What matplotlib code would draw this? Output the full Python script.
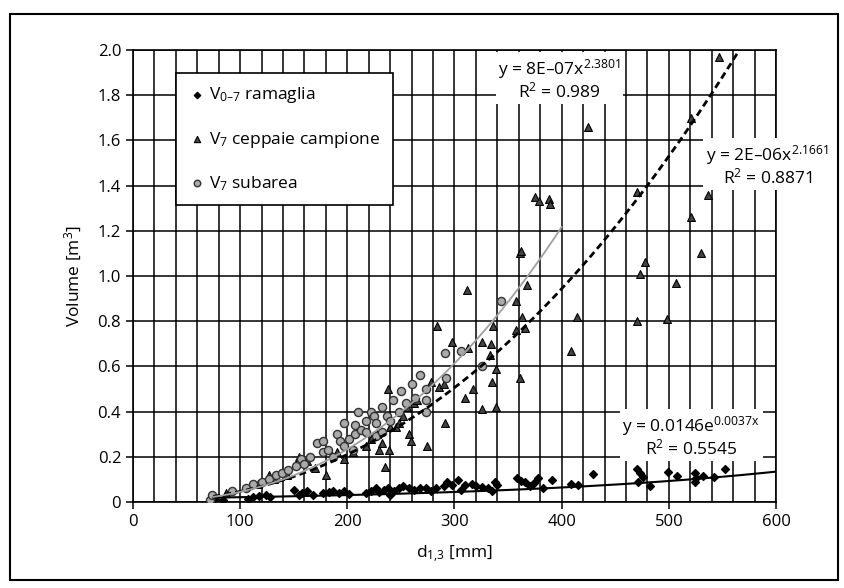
import numpy as np
import matplotlib.pyplot as plt
from matplotlib.patches import Rectangle
from matplotlib.ticker import MultipleLocator, FuncFormatter

plt.rcParams['font.family'] = ['Open Sans', 'DejaVu Sans']
plt.rcParams['mathtext.default'] = 'regular'

# V0-7 ramaglia (diamanti)
ram_x = [76, 84, 107, 112, 118, 124, 128, 150, 155, 158, 162, 168, 177, 183, 187,
         192, 197, 202, 217, 222, 227, 230, 234, 238, 240, 244, 248, 252, 258, 262,
         268, 273, 278, 283, 290, 293, 298, 303, 306, 310, 316, 320, 326, 331, 335,
         338, 340, 358, 362, 366, 370, 374, 378, 383, 391, 409, 415, 429, 470, 473,
         476, 471, 482, 499, 508, 524, 525, 524, 532, 542, 552]
ram_y = [0.013, 0.010, 0.013, 0.020, 0.025, 0.030, 0.020, 0.055, 0.030, 0.040, 0.047,
         0.030, 0.038, 0.045, 0.047, 0.040, 0.047, 0.035, 0.038, 0.050, 0.063, 0.045,
         0.055, 0.063, 0.030, 0.050, 0.063, 0.070, 0.063, 0.055, 0.060, 0.063, 0.050,
         0.063, 0.070, 0.088, 0.075, 0.096, 0.055, 0.075, 0.080, 0.070, 0.065, 0.063,
         0.047, 0.088, 0.075, 0.105, 0.095, 0.090, 0.072, 0.085, 0.105, 0.063, 0.096,
         0.080, 0.075, 0.126, 0.146, 0.130, 0.110, 0.090, 0.070, 0.133, 0.113, 0.130,
         0.105, 0.088, 0.113, 0.110, 0.146]

# V7 ceppaie campione (triangoli)
cep_x = [71, 87, 117, 127, 132, 144, 155, 162, 170, 180, 183, 190, 197, 205, 217,
         222, 228, 230, 232, 235, 238, 239, 240, 245, 248, 252, 256, 258, 259, 262,
         265, 274, 278, 284, 286, 290, 291, 298, 310, 312, 313, 317, 326, 326, 333,
         335, 334, 336, 339, 339, 357, 357, 361, 361, 362, 363, 366, 368, 375, 379,
         388, 389, 409, 414, 425, 470, 470, 473, 478, 498, 507, 521, 521, 530, 537, 547]
cep_y = [0.01, 0.04, 0.08, 0.12, 0.10, 0.12, 0.20, 0.18, 0.15, 0.12, 0.23, 0.22,
         0.19, 0.22, 0.25, 0.28, 0.30, 0.23, 0.26, 0.155, 0.50, 0.23, 0.33, 0.33,
         0.35, 0.38, 0.42, 0.30, 0.27, 0.44, 0.45, 0.25, 0.53, 0.78, 0.51, 0.52,
         0.35, 0.71, 0.46, 0.94, 0.68, 0.50, 0.41, 0.71, 0.65, 0.53, 0.70, 0.78,
         0.42, 0.59, 0.89, 0.76, 0.55, 1.10, 1.11, 0.82, 0.77, 0.96, 1.35, 1.33,
         1.34, 1.32, 0.67, 0.82, 1.66, 1.37, 0.80, 1.01, 1.06, 0.81, 0.97, 1.70,
         1.26, 1.10, 1.36, 1.97]

# V7 subarea (cerchi)
sub_x = [72, 74, 92, 105, 112, 120, 127, 133, 139, 145, 152, 157, 160, 165, 172,
         177, 177, 182, 187, 190, 193, 197, 197, 202, 205, 207, 207, 210, 213, 217,
         217, 222, 225, 227, 227, 232, 232, 237, 240, 243, 248, 250, 255, 260, 263,
         268, 273, 273, 273, 291, 292, 306, 326, 343]
sub_y = [0.01, 0.03, 0.05, 0.06, 0.08, 0.09, 0.10, 0.12, 0.13, 0.14, 0.16, 0.19,
         0.17, 0.20, 0.26, 0.27, 0.22, 0.23, 0.20, 0.30, 0.27, 0.35, 0.25, 0.28,
         0.23, 0.34, 0.30, 0.40, 0.32, 0.36, 0.31, 0.40, 0.38, 0.35, 0.29, 0.42,
         0.31, 0.38, 0.36, 0.45, 0.40, 0.49, 0.44, 0.52, 0.46, 0.56, 0.50, 0.45,
         0.40, 0.66, 0.55, 0.67, 0.60, 0.89]

# linee di tendenza
ram_a, ram_b = 0.0146, 0.0037
cep_a, cep_b = 2.18e-06, 2.1661
sub_a, sub_b = 7.8e-07, 2.3801

fig = plt.figure(figsize=(8.45, 5.88), dpi=100)
fig.patches.append(Rectangle((10 / 845, 1 - 580 / 588), 828 / 845, 566 / 588,
                             transform=fig.transFigure, fill=False,
                             edgecolor='black', linewidth=1.5))
ax = fig.add_axes([133 / 845, 1 - 502 / 588, 643 / 845, 452 / 588])

ax.set_xlim(0, 600)
ax.set_ylim(0, 2.0)
ax.xaxis.set_major_locator(MultipleLocator(100))
ax.xaxis.set_minor_locator(MultipleLocator(20))
ax.yaxis.set_major_locator(MultipleLocator(0.2))
ax.yaxis.set_major_formatter(FuncFormatter(lambda v, p: '0' if abs(v) < 1e-9 else f'{v:.1f}'))
ax.grid(which='both', axis='x', color='black', linewidth=1.1)
ax.grid(which='major', axis='y', color='black', linewidth=1.1)
ax.set_axisbelow(True)
ax.tick_params(which='major', direction='out', length=5, width=1.1, labelsize=12)
ax.tick_params(which='minor', length=0)
for s in ax.spines.values():
    s.set_linewidth(1.2)

ax.scatter(ram_x, ram_y, marker='D', s=16, color='black', zorder=3,
           label='V$_{0\u20137}$ ramaglia')
ax.scatter(cep_x, cep_y, marker='^', s=32, facecolor='#444444', edgecolor='black',
           linewidth=0.8, zorder=3, label='V$_7$ ceppaie campione')
ax.scatter(sub_x, sub_y, marker='o', s=34, facecolor='#aaaaaa', edgecolor='#333333',
           linewidth=1.0, zorder=4, label='V$_7$ subarea')

xr = np.linspace(75, 600, 200)
ax.plot(xr, ram_a * np.exp(ram_b * xr), color='black', linewidth=1.5, zorder=5)
xc = np.linspace(75, 575, 200)
ax.plot(xc, cep_a * xc ** cep_b, color='black', linewidth=2, linestyle=(0, (2.5, 1.5)), zorder=5)
xs = np.linspace(75, 400, 200)
ax.plot(xs, sub_a * xs ** sub_b, color='#a0a0a0', linewidth=1.3, zorder=5)

box = dict(facecolor='white', edgecolor='none', pad=2)
ax.text(398, 1.87, 'y = 8E\u201307x$^{2.3801}$\nR$^2$ = 0.989', ha='center', va='center',
        fontsize=12.5, linespacing=1.0, bbox=box, zorder=6)
ax.text(592, 1.49, 'y = 2E\u201306x$^{2.1661}$\nR$^2$ = 0.8871', ha='center', va='center',
        fontsize=12.5, linespacing=1.0, bbox=box, zorder=6, clip_on=False)
ax.text(521, 0.29, 'y = 0.0146e$^{0.0037x}$\nR$^2$ = 0.5545', ha='center', va='center',
        fontsize=12.5, linespacing=1.0, bbox=box, zorder=6)

leg = ax.legend(loc='upper left', bbox_to_anchor=(0.054, 0.968), fontsize=12.5,
                frameon=True, fancybox=False, edgecolor='black', framealpha=1,
                labelspacing=1.4, borderpad=0.7, handletextpad=0.2, handlelength=1.0,
                markerscale=0.8)
leg.get_frame().set_linewidth(1.2)
leg.set_zorder(7)

ax.set_xlabel('d$_{1{,}3}$ [mm]', fontsize=12.5, labelpad=10)
ax.set_ylabel('Volume [m$^3$]', fontsize=12.5, labelpad=10)

fig.savefig('out.png', dpi=100)
